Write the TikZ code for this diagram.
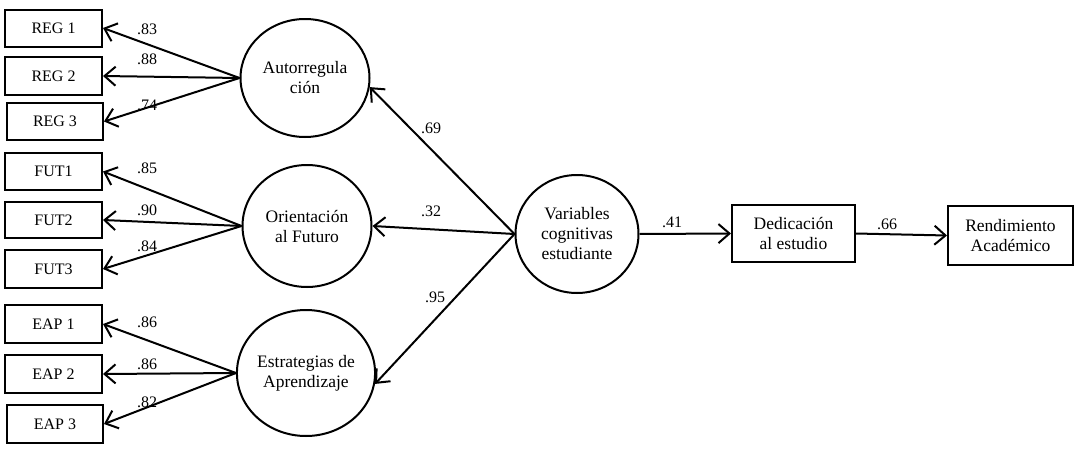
\documentclass[tikz,border=0pt]{standalone}
\usepackage{fontspec}
\setmainfont{Liberation Serif}
\usetikzlibrary{arrows.meta,shapes.geometric}
\begin{document}
\begin{tikzpicture}[x=1pt,y=-1pt,
  font=\fontsize{16}{20}\selectfont,
  obs/.style={draw,line width=2pt,rectangle,inner sep=0pt,align=center},
  big/.style={font=\fontsize{17.5}{20}\selectfont},
  lat/.style={draw,line width=2pt,ellipse,inner sep=0pt,align=center,big},
  arr/.style={line width=2pt,-{Straight Barb[length=11pt,width=19pt]}},
  lbl/.style={inner sep=0pt}]
\useasboundingbox (0,0) rectangle (1080,450);
% observed indicators
\node[obs,minimum width=97pt,minimum height=37pt] (reg1) at (53.5,28) {REG 1};
\node[obs,minimum width=97pt,minimum height=38pt] (reg2) at (53.5,76) {REG 2};
\node[obs,minimum width=96pt,minimum height=37pt] (reg3) at (55,121.5) {REG 3};
\node[obs,minimum width=97pt,minimum height=37pt] (fut1) at (53.5,171.5) {FUT1};
\node[obs,minimum width=97pt,minimum height=36pt] (fut2) at (53.5,220) {FUT2};
\node[obs,minimum width=97pt,minimum height=38pt] (fut3) at (53.5,269) {FUT3};
\node[obs,minimum width=97pt,minimum height=38pt] (eap1) at (53.5,324) {EAP 1};
\node[obs,minimum width=97pt,minimum height=38pt] (eap2) at (53.5,374) {EAP 2};
\node[obs,minimum width=96pt,minimum height=38pt] (eap3) at (55,424) {EAP 3};
\node[obs,big,minimum width=123pt,minimum height=57pt] (ded) at (793.5,233.5) {Dedicación\\al estudio};
\node[obs,big,minimum width=125pt,minimum height=59pt] (ren) at (1010.5,235.5) {Rendimiento\\Académico};
% latent variables
\node[lat,minimum width=129pt,minimum height=118pt] (aut) at (305,78) {Autorregula\\ción};
\node[lat,minimum width=129pt,minimum height=122pt] (ori) at (307,226) {Orientación\\al Futuro};
\node[lat,minimum width=128pt,minimum height=126pt] (est) at (306,373) {Estrategias de\\Aprendizaje};
\node[lat,minimum width=123pt,minimum height=118pt] (var) at (577,234) {Variables\\cognitivas\\estudiante};
% loadings
\draw[arr] (aut.west) -- (reg1.east);
\draw[arr] (aut.west) -- (reg2.east);
\draw[arr] (aut.west) -- (reg3.east);
\draw[arr] (ori.west) -- (fut1.east);
\draw[arr] (ori.west) -- (fut2.east);
\draw[arr] (ori.west) -- (fut3.east);
\draw[arr] (est.west) -- (eap1.east);
\draw[arr] (est.west) -- (eap2.east);
\draw[arr] (est.west) -- (eap3.east);
\draw[arr] (var.west) -- (aut.-8);
\draw[arr] (var.west) -- (ori.east);
\draw[arr] (var.west) -- (est.-9);
\draw[arr] (var.east) -- (ded.west);
\draw[arr] (ded.east) -- (ren.west);
% labels
\node[lbl] (l1) at (147,29) {.83};
\node[lbl] (l2) at (147,59) {.88};
\node[lbl] (l3) at (147,105) {.74};
\node[lbl] (l4) at (147,168) {.85};
\node[lbl] (l5) at (147,210) {.90};
\node[lbl] (l6) at (147,246) {.84};
\node[lbl] (l7) at (147,322) {.86};
\node[lbl] (l8) at (147,364) {.86};
\node[lbl] (l9) at (147,402) {.82};
\node[lbl] (l10) at (431,128) {.69};
\node[lbl] (l11) at (431,211) {.32};
\node[lbl] (l12) at (435,297) {.95};
\node[lbl] (l13) at (672,222) {.41};
\node[lbl] (l14) at (887,224) {.66};
\end{tikzpicture}
\end{document}
